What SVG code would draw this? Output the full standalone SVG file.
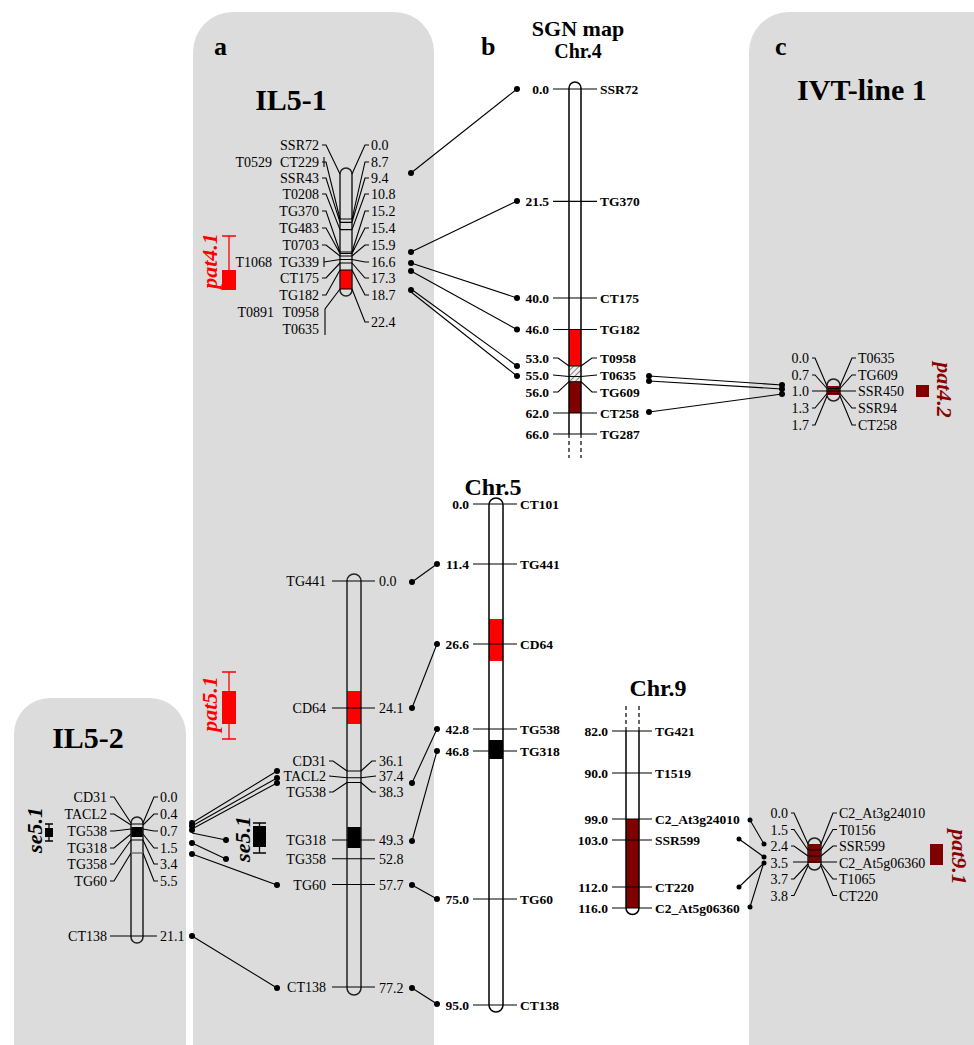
<svg xmlns="http://www.w3.org/2000/svg" width="974" height="1045" viewBox="0 0 974 1045">
<style>
.panel{fill:#dcdcdc;}
.t{font-family:"Liberation Serif","Times New Roman",serif;font-size:14px;fill:#000;}
.e{text-anchor:end;}
.m{text-anchor:middle;}
.b{font-family:"Liberation Serif","Times New Roman",serif;font-size:13.5px;font-weight:bold;fill:#000;}
.h{font-family:"Liberation Serif","Times New Roman",serif;font-weight:bold;fill:#000;}
.q{font-family:"Liberation Serif","Times New Roman",serif;font-weight:bold;font-style:italic;font-size:22px;}
.ln{stroke:#000;stroke-width:1.1;fill:none;}
.chr{fill:none;stroke:#222;stroke-width:1.5;}
.dash{stroke:#000;stroke-width:1.2;stroke-dasharray:4,3;}
.dot{fill:#000;}
</style>
<defs>
<pattern id="hatch" patternUnits="userSpaceOnUse" width="4" height="4" patternTransform="rotate(45)">
<rect width="4" height="4" fill="#eee"/>
<line x1="0" y1="0" x2="0" y2="4" stroke="#666" stroke-width="1.6"/>
</pattern>
</defs>
<rect width="974" height="1045" fill="#fff"/>
<!-- panels -->
<rect class="panel" x="193" y="12" width="241" height="1100" rx="40"/>
<rect class="panel" x="749" y="12" width="280" height="1100" rx="40"/>
<rect class="panel" x="14" y="698" width="172" height="420" rx="36"/>

<!-- titles -->
<g id="titles">
<text class="h" x="214" y="55" font-size="26">a</text>
<text class="h" x="481" y="55" font-size="26">b</text>
<text class="h" x="775" y="55" font-size="26">c</text>
<text class="h m" x="291" y="110" font-size="30">IL5-1</text>
<text class="h m" x="862" y="100" font-size="30">IVT-line 1</text>
<text class="h m" x="88" y="748" font-size="30">IL5-2</text>
<text class="h m" x="578" y="36" font-size="22">SGN map</text>
<text class="h m" x="578" y="58" font-size="20">Chr.4</text>
<text class="h m" x="493" y="495" font-size="24">Chr.5</text>
<text class="h m" x="658" y="696" font-size="24">Chr.9</text>
</g>

<!-- IL5-1 chromosome 4 -->
<g id="il51-chr4">
<rect x="340" y="270" width="12" height="19" fill="#f00"/>
<rect class="chr" x="340" y="168" width="12" height="128" rx="6"/>
<path class="ln" d="M340,219H352M340,222.4H352M340,229.6H352M340,252H352M340,253.5H352M340,256H352M340,259.5H352M340,263H352M340,270H352M340,289H352"/>
<path class="ln" d="M322,145H326L340,174M322,162H326L340,219M322,178H326L340,222.4M322,194H326L340,229.6M322,211H326L340,252M322,228H326L340,253.5M322,245H326L340,256M324,262L340,259.5M322,278H326L340,263M322,295H326L340,270M325,335V309L340,289"/>
<path class="ln" d="M324,157V167M324,257V267"/>
<path class="ln" d="M352,174L365,145H369M352,219L365,162H369M352,222.4L365,178H369M352,229.6L365,194H369M352,252L365,211H369M352,253.5L365,228H369M352,256L365,245H369M352,259.5L365,262H369M352,263L365,278H369M352,270L365,295H369M352,289L365,322H369"/>
<text class="t e" x="319" y="150">SSR72</text>
<text class="t e" x="319" y="167">CT229</text>
<text class="t e" x="272" y="167">T0529</text>
<text class="t e" x="319" y="183">SSR43</text>
<text class="t e" x="319" y="199">T0208</text>
<text class="t e" x="319" y="216">TG370</text>
<text class="t e" x="319" y="233">TG483</text>
<text class="t e" x="319" y="250">T0703</text>
<text class="t e" x="319" y="267">TG339</text>
<text class="t e" x="272" y="267">T1068</text>
<text class="t e" x="319" y="283">CT175</text>
<text class="t e" x="319" y="300">TG182</text>
<text class="t e" x="319" y="317">T0958</text>
<text class="t e" x="274" y="317">T0891</text>
<text class="t e" x="319" y="334">T0635</text>
<text class="t" x="371" y="150">0.0</text>
<text class="t" x="371" y="167">8.7</text>
<text class="t" x="371" y="183">9.4</text>
<text class="t" x="371" y="199">10.8</text>
<text class="t" x="371" y="216">15.2</text>
<text class="t" x="371" y="233">15.4</text>
<text class="t" x="371" y="250">15.9</text>
<text class="t" x="371" y="267">16.6</text>
<text class="t" x="371" y="283">17.3</text>
<text class="t" x="371" y="300">18.7</text>
<text class="t" x="371" y="327">22.4</text>
</g>

<g id="qtl-pat41">
<rect x="222" y="270" width="14" height="20" fill="#f00"/>
<path d="M229,236V270M222,236H236" stroke="#f00" stroke-width="1.3" fill="none"/>
<text class="q m" fill="#f00" transform="translate(217,261) rotate(-90)">pat4.1</text>
</g>

<!-- IL5-1 chromosome 5 -->
<g id="il51-chr5">
<rect x="347" y="691" width="14" height="33" fill="#f00"/>
<rect x="347" y="827" width="14" height="21" fill="#000"/>
<rect class="chr" x="347" y="574" width="14" height="421" rx="7"/>
<path class="ln" d="M332,581H375M332,708H375M332,840H375M332,858.7H375M332,884.5H375M332,987H375M347,771H361M347,777.7H361M347,782.5H361"/>
<path class="ln" d="M329,761H333L347,771M329,776L347,777.7M329,792H333L347,782.5M361,771L372,761H376M361,777.7L376,776M361,782.5L372,792H376"/>
<text class="t e" x="326" y="586">TG441</text>
<text class="t e" x="326" y="713">CD64</text>
<text class="t e" x="326" y="766">CD31</text>
<text class="t e" x="326" y="781">TACL2</text>
<text class="t e" x="326" y="797">TG538</text>
<text class="t e" x="326" y="845">TG318</text>
<text class="t e" x="326" y="864">TG358</text>
<text class="t e" x="326" y="890">TG60</text>
<text class="t e" x="326" y="992">CT138</text>
<text class="t" x="379" y="586">0.0</text>
<text class="t" x="379" y="713">24.1</text>
<text class="t" x="379" y="766">36.1</text>
<text class="t" x="379" y="781">37.4</text>
<text class="t" x="379" y="797">38.3</text>
<text class="t" x="379" y="845">49.3</text>
<text class="t" x="379" y="864">52.8</text>
<text class="t" x="379" y="890">57.7</text>
<text class="t" x="379" y="993">77.2</text>
</g>

<g id="qtl-pat51">
<rect x="222" y="691" width="14" height="33" fill="#f00"/>
<path d="M229,672V739M222,672H236M222,739H236" stroke="#f00" stroke-width="1.3" fill="none"/>
<text class="q m" fill="#f00" transform="translate(217,704) rotate(-90)">pat5.1</text>
</g>

<g id="qtl-se51-a">
<rect x="253" y="826" width="13" height="21" fill="#000"/>
<path d="M259.5,823V853M253,823H266M253,853H266" stroke="#000" stroke-width="1.3" fill="none"/>
<text class="q m" fill="#000" transform="translate(250,839) rotate(-90)">se5.1</text>
</g>

<!-- IL5-2 -->
<g id="il52-chr5">
<rect x="131" y="827" width="12" height="10" fill="#000"/>
<rect class="chr" x="131" y="817" width="12" height="126" rx="6"/>
<path class="ln" d="M131,824H143M131,840H143"/>
<path d="M131,853H143" stroke="#777" stroke-width="1.6"/>
<path class="ln" d="M110,797H114L131,823M110,814H114L131,825M110,831H114L131,829M110,848H114L131,834M110,864H114L131,840M110,881H114L131,853M110,936H157"/>
<path class="ln" d="M143,823L154,797H158M143,825L154,814H158M143,829L154,831H158M143,834L154,848H158M143,840L154,864H158M143,853L154,881H158"/>
<text class="t e" x="107" y="802">CD31</text>
<text class="t e" x="107" y="819">TACL2</text>
<text class="t e" x="107" y="836">TG538</text>
<text class="t e" x="107" y="853">TG318</text>
<text class="t e" x="107" y="869">TG358</text>
<text class="t e" x="107" y="886">TG60</text>
<text class="t e" x="107" y="941">CT138</text>
<text class="t" x="160" y="802">0.0</text>
<text class="t" x="160" y="819">0.4</text>
<text class="t" x="160" y="836">0.7</text>
<text class="t" x="160" y="853">1.5</text>
<text class="t" x="160" y="869">3.4</text>
<text class="t" x="160" y="886">5.5</text>
<text class="t" x="160" y="941">21.1</text>
</g>

<g id="qtl-se51-b">
<rect x="45" y="828" width="8" height="9" fill="#000"/>
<path d="M49,824V841M45,824H53M45,841H53" stroke="#000" stroke-width="1.3" fill="none"/>
<text class="q m" fill="#000" transform="translate(42,830) rotate(-90)">se5.1</text>
</g>

<!-- SGN Chr.4 -->
<g id="sgn-chr4">
<path d="M569,434V88A6,6 0 0 1 581,88V434Z" fill="#fff"/>
<rect x="569" y="329.5" width="12" height="36.5" fill="#f00"/>
<rect x="569" y="366" width="12" height="15.7" fill="url(#hatch)"/>
<rect x="569" y="381.7" width="12" height="31.3" fill="#800000"/>
<path d="M569,434V88A6,6 0 0 1 581,88V434" fill="none" stroke="#000" stroke-width="1.5"/>
<path class="dash" d="M569,434V458M581,434V458"/>
<path class="ln" d="M553,89H597M553,201.4H597M553,298H597M553,329.5H597M553,413H597M553,434H597M569,366H581M569,376.5H581M569,381.7H581"/>
<path class="ln" d="M553,358H558L569,366M553,375L569,376.5M553,392H558L569,381.7M581,366L592,358H597M581,376.5L597,375M581,381.7L592,392H597"/>
<text class="b e" x="549" y="94">0.0</text>
<text class="b e" x="549" y="206">21.5</text>
<text class="b e" x="549" y="303">40.0</text>
<text class="b e" x="549" y="334">46.0</text>
<text class="b e" x="549" y="363">53.0</text>
<text class="b e" x="549" y="380">55.0</text>
<text class="b e" x="549" y="397">56.0</text>
<text class="b e" x="549" y="418">62.0</text>
<text class="b e" x="549" y="439">66.0</text>
<text class="b" x="600" y="94">SSR72</text>
<text class="b" x="600" y="206">TG370</text>
<text class="b" x="600" y="303">CT175</text>
<text class="b" x="600" y="334">TG182</text>
<text class="b" x="600" y="363">T0958</text>
<text class="b" x="600" y="380">T0635</text>
<text class="b" x="600" y="397">TG609</text>
<text class="b" x="600" y="418">CT258</text>
<text class="b" x="600" y="439">TG287</text>
</g>

<!-- SGN Chr.5 -->
<g id="sgn-chr5">
<rect x="489" y="498" width="14" height="514" rx="7" fill="#fff"/>
<rect x="489" y="619" width="14" height="42" fill="#f00"/>
<rect x="489" y="740" width="14" height="19" fill="#000"/>
<rect x="489" y="498" width="14" height="514" rx="7" fill="none" stroke="#000" stroke-width="1.5"/>
<path class="ln" d="M473,504H517M473,564H517M473,644H517M473,729H517M473,751H517M473,899H517M473,1005H517"/>
<text class="b e" x="469" y="509">0.0</text>
<text class="b e" x="469" y="569">11.4</text>
<text class="b e" x="469" y="649">26.6</text>
<text class="b e" x="469" y="734">42.8</text>
<text class="b e" x="469" y="756">46.8</text>
<text class="b e" x="469" y="904">75.0</text>
<text class="b e" x="469" y="1010">95.0</text>
<text class="b" x="520" y="509">CT101</text>
<text class="b" x="520" y="569">TG441</text>
<text class="b" x="520" y="649">CD64</text>
<text class="b" x="520" y="734">TG538</text>
<text class="b" x="520" y="756">TG318</text>
<text class="b" x="520" y="904">TG60</text>
<text class="b" x="520" y="1010">CT138</text>
</g>

<!-- SGN Chr.9 -->
<g id="sgn-chr9">
<path d="M626,731V908A6.5,6.5 0 0 0 639,908V731Z" fill="#fff"/>
<rect x="626" y="819" width="13" height="89" fill="#800000"/>
<path d="M626,731V908A6.5,6.5 0 0 0 639,908V731" fill="none" stroke="#000" stroke-width="1.5"/>
<path class="dash" d="M626,706V731M639,706V731"/>
<path class="ln" d="M612,731H652M612,773H652M612,819H652M612,840H652M612,887H652M612,908H652"/>
<text class="b e" x="608" y="736">82.0</text>
<text class="b e" x="608" y="778">90.0</text>
<text class="b e" x="608" y="824">99.0</text>
<text class="b e" x="608" y="845">103.0</text>
<text class="b e" x="608" y="892">112.0</text>
<text class="b e" x="608" y="913">116.0</text>
<text class="b" x="655" y="736">TG421</text>
<text class="b" x="655" y="778">T1519</text>
<text class="b" x="655" y="824">C2_At3g24010</text>
<text class="b" x="655" y="845">SSR599</text>
<text class="b" x="655" y="892">CT220</text>
<text class="b" x="655" y="913">C2_At5g06360</text>
</g>

<!-- IVT chr4 -->
<g id="ivt-chr4">
<rect x="827" y="386" width="13" height="9" fill="#800000"/>
<path class="ln" d="M827,388.5H840M827,393.5H840"/>
<rect class="chr" x="827" y="379" width="13" height="22" rx="6.5"/>
<path class="ln" d="M812,391H856M812,358H815L827,386M812,375H815L827,388.5M812,408H815L827,393.5M812,425H815L827,396M840,386L852,358H856M840,388.5L852,375H856M840,393.5L852,408H856M840,396L852,425H856"/>
<text class="t e" x="809" y="363">0.0</text>
<text class="t e" x="809" y="380">0.7</text>
<text class="t e" x="809" y="396">1.0</text>
<text class="t e" x="809" y="413">1.3</text>
<text class="t e" x="809" y="430">1.7</text>
<text class="t" x="858" y="363">T0635</text>
<text class="t" x="858" y="380">TG609</text>
<text class="t" x="858" y="396">SSR450</text>
<text class="t" x="858" y="413">SSR94</text>
<text class="t" x="858" y="430">CT258</text>
</g>
<g id="qtl-pat42">
<rect x="916" y="385" width="13" height="12" fill="#800000"/>
<text class="q m" fill="#8b0000" transform="translate(937,390) rotate(90)">pat4.2</text>
</g>

<!-- IVT chr9 -->
<g id="ivt-chr9">
<rect x="808" y="844" width="13" height="19" fill="#800000"/>
<path class="ln" d="M808,850H821M808,856H821"/>
<rect class="chr" x="808" y="838" width="13" height="32" rx="6.5"/>
<path class="ln" d="M793,862H837M791,813H794L808,844M791,829.5H794L808,850M791,846H794L808,856M791,879H794L808,864M791,895.5H794L808,866M821,844L833,813H837M821,850L833,829.5H837M821,856L833,846H837M821,864L833,879H837M821,866L833,895.5H837"/>
<text class="t e" x="788" y="818">0.0</text>
<text class="t e" x="788" y="835">1.5</text>
<text class="t e" x="788" y="851">2.4</text>
<text class="t e" x="788" y="868">3.5</text>
<text class="t e" x="788" y="884">3.7</text>
<text class="t e" x="788" y="901">3.8</text>
<text class="t" x="839" y="818">C2_At3g24010</text>
<text class="t" x="839" y="835">T0156</text>
<text class="t" x="839" y="851">SSR599</text>
<text class="t" x="839" y="868">C2_At5g06360</text>
<text class="t" x="839" y="884">T1065</text>
<text class="t" x="839" y="901">CT220</text>
</g>
<g id="qtl-pat91">
<rect x="930" y="844" width="13" height="21" fill="#800000"/>
<text class="q m" fill="#8b0000" transform="translate(952,857) rotate(90)">pat9.1</text>
</g>

<!-- connectors -->
<g id="connectors">
<path class="ln" d="M411,173L517,89M411,252L517,201M411,263L517,298M411,271L517,329.5M411,289L517,366M411,292L517,376"/>
<path class="ln" d="M649,376L782,385M649,381L782,389M649,412L782,394"/>
<path class="ln" d="M412,582L437,564M412,708L437,644M412,783L437,729M412,841L437,751M412,885L437,899M412,988L437,1004"/>
<path class="ln" d="M192,823L277,771M192,826L277,778M192,829L277,783M192,833L226,840M192,843L226,859M192,854L277,885M192,936L277,988"/>
<path class="ln" d="M750,820L764,844M739,839L764,857M739,887L764,863M750,907L764,862"/>
<g class="dot">
<circle cx="411" cy="173" r="3"/><circle cx="411" cy="252" r="3"/><circle cx="411" cy="263" r="3"/><circle cx="411" cy="271" r="3"/><circle cx="411" cy="290" r="3"/>
<circle cx="517" cy="89" r="3"/><circle cx="517" cy="201" r="3"/><circle cx="517" cy="298" r="3"/><circle cx="517" cy="329.5" r="3"/><circle cx="517" cy="366" r="3"/><circle cx="517" cy="376" r="3"/>
<circle cx="649" cy="376" r="3"/><circle cx="649" cy="381" r="3"/><circle cx="649" cy="412" r="3"/>
<circle cx="782" cy="385" r="3"/><circle cx="782" cy="389" r="3"/><circle cx="782" cy="394" r="3"/>
<circle cx="412" cy="582" r="3"/><circle cx="412" cy="708" r="3"/><circle cx="412" cy="783" r="3"/><circle cx="412" cy="841" r="3"/><circle cx="412" cy="885" r="3"/><circle cx="412" cy="988" r="3"/>
<circle cx="437" cy="564" r="3"/><circle cx="437" cy="644" r="3"/><circle cx="437" cy="729" r="3"/><circle cx="437" cy="751" r="3"/><circle cx="437" cy="899" r="3"/><circle cx="437" cy="1004" r="3"/>
<circle cx="192" cy="823" r="3"/><circle cx="192" cy="826" r="3"/><circle cx="192" cy="830" r="3"/><circle cx="192" cy="843" r="3"/><circle cx="192" cy="854" r="3"/><circle cx="192" cy="936" r="3"/>
<circle cx="277" cy="771" r="3"/><circle cx="277" cy="778" r="3"/><circle cx="277" cy="783" r="3"/><circle cx="226" cy="840" r="3"/><circle cx="226" cy="859" r="3"/><circle cx="277" cy="885" r="3"/><circle cx="277" cy="988" r="3"/>
<circle cx="750" cy="820" r="2.5"/><circle cx="739" cy="839" r="2.5"/><circle cx="739" cy="887" r="2.5"/><circle cx="750" cy="907" r="2.5"/>
<circle cx="764" cy="844" r="2.5"/><circle cx="764" cy="857" r="2.5"/><circle cx="764" cy="863" r="2.5"/>
</g>
</g>
</svg>
